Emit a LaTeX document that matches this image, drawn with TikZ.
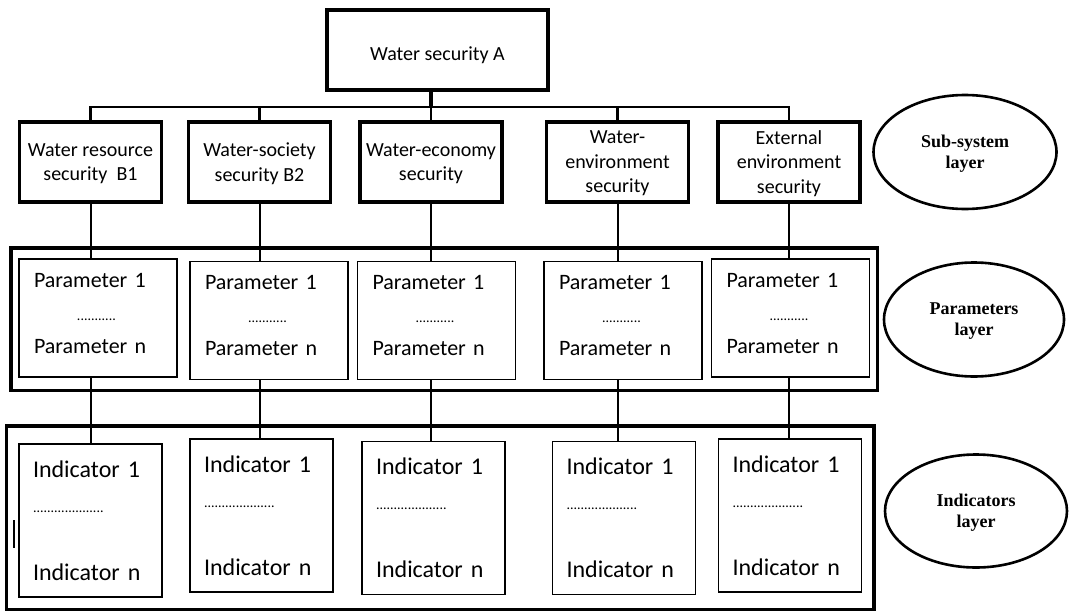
\documentclass[tikz,border=0pt]{standalone}
\usepackage{fontspec}
\setmainfont{Carlito}
\newfontfamily\layerfont{Liberation Serif}
\usetikzlibrary{shapes,arrows,positioning,calc,fit}

\begin{document}
\begin{tikzpicture}[x=1pt, y=-1pt]
    \tikzstyle{topbox} = [rectangle, draw, line width=3.2pt, minimum width=221pt, minimum height=80pt, text height=24pt, text depth=4pt, font=\fontsize{20}{24}\selectfont]
    \tikzstyle{subbox} = [rectangle, draw, line width=3.2pt, minimum width=142pt, minimum height=80pt, inner sep=1pt, align=center, text depth=-4.5pt, font=\fontsize{20}{24.5}\selectfont]
    \tikzstyle{parbox} = [rectangle, draw, line width=1.8pt, text width=128pt, inner xsep=15pt, inner ysep=0pt, minimum height=118pt, align=left, font=\fontsize{22}{33}\selectfont]
    \tikzstyle{indbox} = [rectangle, draw, line width=1.8pt, text width=115pt, inner xsep=14pt, inner ysep=0pt, minimum height=153pt, align=left, font=\fontsize{24}{35}\selectfont]
    \tikzstyle{frame} = [rectangle, draw, line width=3.6pt, inner sep=0pt]
    \tikzstyle{layer} = [ellipse, draw, line width=2.6pt, minimum width=183pt, minimum height=114pt, align=center, text depth=-8pt, font=\layerfont\bfseries\fontsize{18}{21}\selectfont]
    \tikzstyle{link} = [line width=2pt]
    \tikzstyle{bus} = [line width=2.8pt]

    \useasboundingbox (0,0) rectangle (1078,610);

    % Nodes
    \node[topbox] (top) at (437.5,50) {Water security A};

    \node[subbox] (sub1) at (90.5,162) {Water resource\\security\ \ B1};
    \node[subbox] (sub2) at (259.5,162) {Water-society\\security B2};
    \node[subbox] (sub3) at (431,162) {Water-economy\\security};
    \node[subbox] (sub4) at (617.5,162) {Water-\\environment\\security};
    \node[subbox] (sub5) at (789,162) {External\\environment\\security};

    \node[parbox] (par1) at (98,318) {Parameter 1\\\hspace*{43pt}{\fontsize{14}{33}\selectfont ...........}\\Parameter n\strut};
    \node[parbox] (par2) at (269,320.5) {Parameter 1\\\hspace*{43pt}{\fontsize{14}{33}\selectfont ...........}\\Parameter n\strut};
    \node[parbox] (par3) at (436.5,320.5) {Parameter 1\\\hspace*{43pt}{\fontsize{14}{33}\selectfont ...........}\\Parameter n\strut};
    \node[parbox] (par4) at (623,320.5) {Parameter 1\\\hspace*{43pt}{\fontsize{14}{33}\selectfont ...........}\\Parameter n\strut};
    \node[parbox] (par5) at (790.5,318) {Parameter 1\\\hspace*{43pt}{\fontsize{14}{33}\selectfont ...........}\\Parameter n\strut};

    \node[indbox] (ind1) at (90.5,520.5) {Indicator 1\\{\fontsize{14}{35}\selectfont ....................}\\[33pt]Indicator n};
    \node[indbox] (ind2) at (261.5,515.5) {Indicator 1\\{\fontsize{14}{35}\selectfont ....................}\\[33pt]Indicator n};
    \node[indbox] (ind3) at (433.5,518) {Indicator 1\\{\fontsize{14}{35}\selectfont ....................}\\[33pt]Indicator n};
    \node[indbox] (ind4) at (624,518) {Indicator 1\\{\fontsize{14}{35}\selectfont ....................}\\[33pt]Indicator n};
    \node[indbox] (ind5) at (790,515.5) {Indicator 1\\{\fontsize{14}{35}\selectfont ....................}\\[33pt]Indicator n};

    \node[frame, fit=(par1)(par2)(par5), inner xsep=7pt, inner ysep=10pt] (parframe) {};
    \node[frame, fit=(ind1)(ind2)(ind5), inner xsep=11.5pt, inner ysep=12pt] (indframe) {};

    \node[layer] (sublayer) at (965,152) {Sub-system\\layer};
    \node[layer, minimum width=180pt] (parlayer) at (974,319.5) {Parameters\\layer};
    \node[layer, minimum width=182pt, minimum height=113pt] (indlayer) at (976,511) {Indicators\\layer};

    % Lines
    \coordinate (bus) at (0,107);
    \draw[line width=4pt] (top.south -| sub3.north) -- (sub3.north |- bus);
    \draw[bus] (sub1.north) -- (sub1.north |- bus) -- (sub5.north |- bus) -- (sub5.north);
    \draw[bus] (sub2.north) -- (sub2.north |- bus);
    \draw[bus] (sub3.north) -- (sub3.north |- bus);
    \draw[bus] (sub4.north) -- (sub4.north |- bus);

    \draw[link] (sub1.south) -- (sub1.south |- par1.north);
    \draw[link] (sub2.south) -- (sub2.south |- par2.north);
    \draw[link] (sub3.south) -- (sub3.south |- par3.north);
    \draw[link] (sub4.south) -- (sub4.south |- par4.north);
    \draw[link] (sub5.south) -- (sub5.south |- par5.north);

    \draw[link] (sub1.south |- par1.south) -- (sub1.south |- ind1.north);
    \draw[link] (sub2.south |- par2.south) -- (sub2.south |- ind2.north);
    \draw[link] (sub3.south |- par3.south) -- (sub3.south |- ind3.north);
    \draw[link] (sub4.south |- par4.south) -- (sub4.south |- ind4.north);
    \draw[link] (sub5.south |- par5.south) -- (sub5.south |- ind5.north);

    % stray mark at the left edge
    \draw[line width=1.2pt] (14,520) -- (14,548);
\end{tikzpicture}
\end{document}
